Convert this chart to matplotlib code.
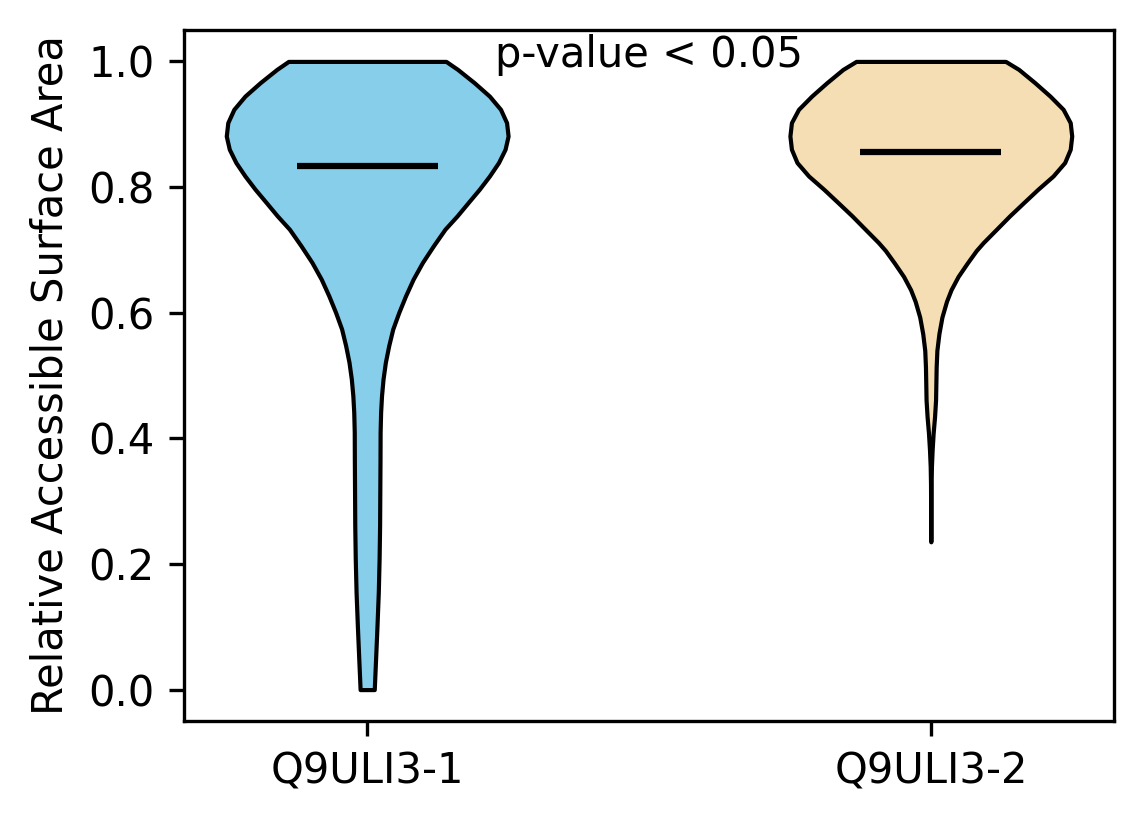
import matplotlib
matplotlib.use("Agg")
import matplotlib.pyplot as plt
import numpy as np

# Data (relative density profile of each violin)
labels = ["Q9ULI3-1", "Q9ULI3-2"]
colors = ["skyblue", "wheat"]

rsa_1 = [0.000, 0.048, 0.101, 0.155, 0.208, 0.261, 0.315, 0.366, 0.4097, 0.4415,
         0.4679, 0.4944, 0.521, 0.5474, 0.5739, 0.6005, 0.6269, 0.6534, 0.680, 0.7064,
         0.7329, 0.7541, 0.7754, 0.7965, 0.8176, 0.839, 0.8601, 0.8812, 0.9025, 0.9237,
         0.9448, 0.9661, 0.9873, 1.000]
dens_1 = [7, 8.3, 9.7, 11, 11.8, 12.3, 12.5, 12.7, 12.8, 13.3,
          14.2, 15.7, 18, 21.3, 25.3, 31.3, 38, 45.5, 54.7, 65.5,
          77, 89, 100, 111, 121, 130, 136.5, 139.5, 138, 132,
          121, 106, 89.5, 78]

rsa_2 = [0.2353, 0.25, 0.302, 0.3285, 0.355, 0.3815, 0.408, 0.4345, 0.461, 0.4875,
         0.5135, 0.540, 0.5665, 0.593, 0.618, 0.6365, 0.6577, 0.6789, 0.699, 0.7118,
         0.7329, 0.7541, 0.7754, 0.7965, 0.8176, 0.839, 0.8601, 0.8812, 0.9025, 0.9237,
         0.9448, 0.9661, 0.9873, 1.000]
dens_2 = [0.05, 0.1, 0.2, 0.3, 0.6, 1.3, 2.3, 3.7, 4.7, 5,
          5.3, 6, 8, 11, 15.5, 20, 27, 36, 45, 52,
          65, 78, 92, 106, 121, 132.5, 138, 139.5, 138, 131,
          118, 103, 87, 74]

means = [0.833, 0.855]
p_text = "p-value < 0.05"

stats = []
for coords, vals, m in [(rsa_1, dens_1, means[0]), (rsa_2, dens_2, means[1])]:
    stats.append({
        "coords": np.array(coords),
        "vals": np.array(vals, dtype=float),
        "mean": m,
        "median": m,
        "min": min(coords),
        "max": max(coords),
    })

fig = plt.figure(figsize=(1144 / 300, 824 / 300), dpi=300)
ax = fig.add_axes([184 / 1144, 1 - 721 / 824, (1114 - 184) / 1144, (721 - 30) / 824])

parts = ax.violin(stats, positions=[1, 2], widths=0.5,
                  showmeans=True, showextrema=False)
for body, c in zip(parts["bodies"], colors):
    body.set_facecolor(c)
    body.set_edgecolor("black")
    body.set_linewidth(1.0)
    body.set_alpha(1)
parts["cmeans"].set_color("black")
parts["cmeans"].set_linewidth(1.5)

ax.set_xticks([1, 2])
ax.set_xticklabels(labels)
ax.set_ylabel("Relative Accessible Surface Area")
ax.text(1.5, 1.01, p_text, ha="center", va="center")

fig.savefig("out.png", dpi=300)
